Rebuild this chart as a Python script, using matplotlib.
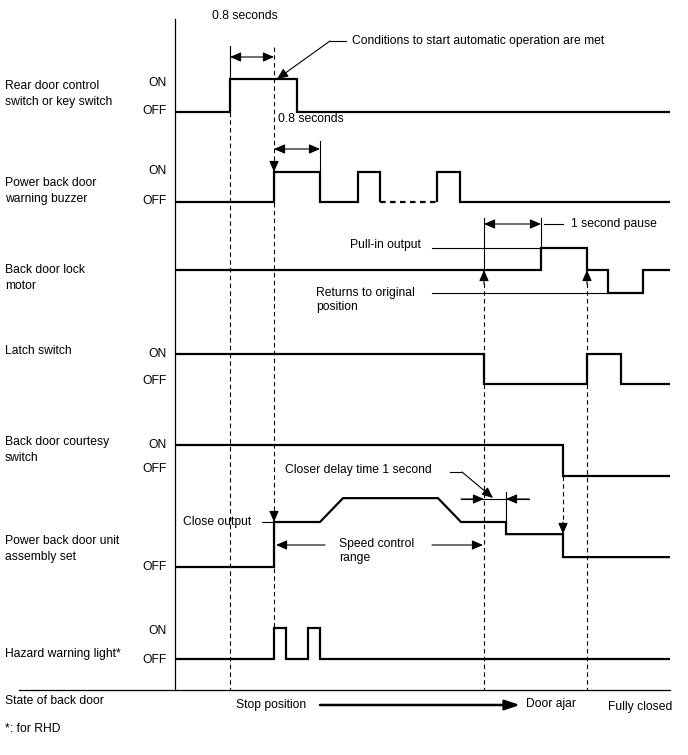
import matplotlib.pyplot as plt

plt.rcParams['font.family'] = ['Liberation Sans', 'DejaVu Sans']

# time axis (same units as the drawing width)
T0, T1 = 175, 670

# row levels: (OFF y, ON y)
rows = {
    'rear': (112, 79),
    'buzzer': (202, 172),
    'motor': (270, 248),
    'latch': (384, 354),
    'courtesy': (476, 445),
    'unit': (567, 522),
    'hazard': (659, 628),
}

# signals: edge times and states (state held between consecutive times)
rear_t = [T0, 230, 297, T1]
rear_s = [0, 1, 0]
buzzer_t_a = [T0, 274, 320, 358, 380, 380]
buzzer_s_a = [0, 1, 0, 1, 0]
buzzer_dash = [380, 437]
buzzer_t_b = [437, 437, 460, T1]
buzzer_s_b = [0, 1, 0]
motor_t = [T0, 541, 587, 608, 643, T1]
motor_s = [0, 1, 0, -1.05, 0]
latch_t = [T0, 484, 587, 621, T1]
latch_s = [1, 0, 1, 0]
courtesy_t = [T0, 563, T1]
courtesy_s = [1, 0]
# unit assembly output (ramps included): time, level (1 = close output)
unit_x = [T0, 274, 274, 320, 343, 438, 461, 506, 506, 563, 563, T1]
unit_l = [0, 0, 1, 1, 1.53, 1.53, 1, 1, 0.73, 0.73, 0.22, 0.22]
hazard_t = [T0, 274, 286, 308, 320, T1]
hazard_s = [0, 1, 0, 1, 0]

signal_labels = [
    ("Rear door control\nswitch or key switch", 94),
    ("Power back door\nwarning buzzer", 191),
    ("Back door lock\nmotor", 278),
    ("Latch switch", 351),
    ("Back door courtesy\nswitch", 450),
    ("Power back door unit\nassembly set", 549),
    ("Hazard warning light*", 654),
]
onoff_labels = [("ON", 83), ("OFF", 111), ("ON", 171), ("OFF", 201),
                ("ON", 354), ("OFF", 381), ("ON", 445), ("OFF", 469),
                ("OFF", 567), ("ON", 631), ("OFF", 660)]

W, H = 688, 755
fig = plt.figure(figsize=(W / 100, H / 100), dpi=100)
ax = fig.add_axes([0, 0, 1, 1])
ax.set_xlim(0, W)
ax.set_ylim(H, 0)
ax.axis('off')

FS = 8.7
SIG = dict(color='black', lw=1.6, solid_joinstyle='miter', solid_capstyle='butt')
THIN = dict(color='black', lw=0.8)
DASH = dict(color='black', lw=0.8, dashes=(4, 3))


def level(row, s):
    off, on = rows[row]
    return off + (on - off) * s


def step(row, t, s):
    xs, ys = [], []
    for i, st in enumerate(s):
        y = level(row, st)
        xs += [t[i], t[i + 1]]
        ys += [y, y]
    ax.plot(xs, ys, **SIG)


def arrow(tail, tip, style='-|>'):
    ax.annotate('', xy=tip, xytext=tail,
                arrowprops=dict(arrowstyle=style + ',head_length=0.55,head_width=0.24',
                                color='black', lw=0.8, shrinkA=0, shrinkB=0,
                                mutation_scale=12))


# frame lines
ax.plot([T0, T0], [19, 690], color='black', lw=0.9)
ax.plot([19, T1], [690, 690], color='black', lw=0.9)

# dashed time markers
ax.plot([230, 230], [112, 690], **DASH)
ax.plot([274, 274], [47, 628], **DASH)
ax.plot([484, 484], [283, 690], **DASH)
ax.plot([587, 587], [283, 690], **DASH)
ax.plot([563, 563], [476, 524], **DASH)

# signals
step('rear', rear_t, rear_s)
step('buzzer', buzzer_t_a, buzzer_s_a)
ax.plot(buzzer_dash, [level('buzzer', 0)] * 2, color='black', lw=1.6, dashes=(2.5, 2))
step('buzzer', buzzer_t_b, buzzer_s_b)
step('motor', motor_t, motor_s)
step('latch', latch_t, latch_s)
step('courtesy', courtesy_t, courtesy_s)
ax.plot(unit_x, [level('unit', v) for v in unit_l], **SIG)
step('hazard', hazard_t, hazard_s)

# labels
for txt, y in signal_labels:
    ax.text(5, y, txt, fontsize=FS, va='center', ha='left', linespacing=1.35)
for txt, y in onoff_labels:
    ax.text(167, y, txt, fontsize=FS, va='center', ha='right')

# 0.8 seconds (switch)
ax.plot([230, 230], [46, 79], **THIN)
arrow((230, 57), (274, 57), '<|-|>')
ax.text(212, 16, "0.8 seconds", fontsize=FS, va='center')
# conditions met
ax.plot([330, 346], [41, 41], **THIN)
arrow((330, 41), (277, 79))
ax.text(352, 41, "Conditions to start automatic operation are met", fontsize=FS, va='center')
arrow((274, 162), (274, 172))

# 0.8 seconds (buzzer)
ax.plot([320, 320], [141, 172], **THIN)
arrow((274, 149), (320, 149), '<|-|>')
ax.text(278, 119, "0.8 seconds", fontsize=FS, va='center')

# lock motor
ax.plot([484, 484], [218, 270], **THIN)
ax.plot([541, 541], [218, 248], **THIN)
arrow((484, 224), (541, 224), '<|-|>')
ax.plot([544, 563], [224, 224], **THIN)
ax.text(571, 224, "1 second pause", fontsize=FS, va='center')
ax.plot([432, 541], [248, 248], **THIN)
ax.text(350, 245, "Pull-in output", fontsize=FS, va='center')
ax.plot([432, 608], [293, 293], **THIN)
ax.text(316, 300, "Returns to original\nposition", fontsize=FS, va='center', linespacing=1.2)
arrow((484, 284), (484, 270))
arrow((587, 284), (587, 270))

# unit assembly
ax.text(285, 470, "Closer delay time 1 second", fontsize=FS, va='center')
ax.plot([450, 462], [472, 472], **THIN)
arrow((462, 472), (493, 498))
ax.plot([506, 506], [492, 522], **THIN)
ax.plot([461, 529], [499, 499], **THIN)
arrow((461, 499), (484, 499))
arrow((529, 499), (506, 499))
ax.text(183, 522, "Close output", fontsize=FS, va='center')
ax.plot([262, 274], [522, 522], **THIN)
arrow((274, 512), (274, 522))
arrow((563, 522), (563, 534))
arrow((325, 545), (276, 545))
arrow((432, 545), (483, 545))
ax.text(339, 551, "Speed control\nrange", fontsize=FS, va='center', linespacing=1.15)

# state of back door
ax.text(5, 701, "State of back door", fontsize=FS, va='center')
ax.text(236, 705, "Stop position", fontsize=FS, va='center')
ax.annotate('', xy=(520, 705), xytext=(320, 705),
            arrowprops=dict(arrowstyle='-|>,head_length=0.9,head_width=0.3',
                            color='black', lw=1.8, shrinkA=0, shrinkB=0,
                            mutation_scale=10))
ax.text(526, 704, "Door ajar", fontsize=FS, va='center')
ax.text(608, 707, "Fully closed", fontsize=FS, va='center')
ax.text(5, 729, "*: for RHD", fontsize=FS, va='center')

fig.savefig('out.png', dpi=100)
